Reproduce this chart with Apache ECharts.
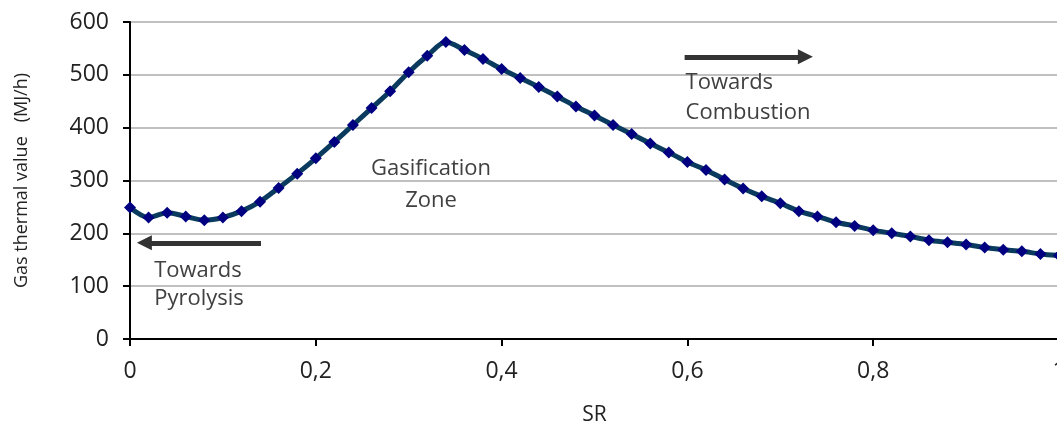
<!DOCTYPE html>
<html><head><meta charset="utf-8">
<script src="https://cdn.jsdelivr.net/npm/echarts@6/dist/echarts.min.js"></script>
<style>html,body{margin:0;padding:0;background:#fff}#c{width:1057px;height:429px}</style>
</head><body><div id="c"></div>
<script>
const srValues = [0,0.02,0.04,0.06,0.08,0.10,0.12,0.14,0.16,0.18,0.20,0.22,0.24,0.26,0.28,0.30,0.32,0.34,0.36,0.38,0.40,0.42,0.44,0.46,0.48,0.50,0.52,0.54,0.56,0.58,0.60,0.62,0.64,0.66,0.68,0.70,0.72,0.74,0.76,0.78,0.80,0.82,0.84,0.86,0.88,0.90,0.92,0.94,0.96,0.98,1.00];
const gasThermal = [249,230,239,232,225,230,242,260,286,313,342,373,405,437,469,505,536,562,547,530,511,494,477,459,440,423,405,388,370,353,335,320,302,285,270,257,242,232,221,214,206,200,194,187,183,179,173,169,166,161,158];
const yTicks = [0,100,200,300,400,500,600];
const arrows = [
  {from:[0.141,182], to:[0.0155,182]},
  {from:[0.597,534], to:[0.727,534]}
];
const notes = [
  {text:'Towards', at:[0.026,129], align:'left'},
  {text:'Pyrolysis', at:[0.026,76], align:'left'},
  {text:'Towards', at:[0.598,485], align:'left'},
  {text:'Combustion', at:[0.598,428], align:'left'},
  {text:'Gasification', at:[0.324,322], align:'center'},
  {text:'Zone', at:[0.324,262], align:'center'}
];

const FONT = '"Open Sans", "Noto Sans", sans-serif';
const chart = echarts.init(document.getElementById('c'));
chart.setOption({
  animation:false,
  grid:{left:130, top:22, width:929, height:317, outerBoundsMode:'none', containLabel:false,
    show:true, borderColor:'#000', borderWidth:2, backgroundColor:'transparent'},
  xAxis:{type:'value', min:0, max:1, interval:0.2,
    name:'SR', nameLocation:'middle', nameGap:66,
    nameTextStyle:{fontFamily:FONT, fontSize:21, color:'#222'},
    axisLine:{show:true, lineStyle:{color:'#000', width:2}},
    axisTick:{show:true, length:7, lineStyle:{color:'#000', width:2}},
    axisLabel:{fontFamily:FONT, fontSize:23, color:'#222', margin:21, hideOverlap:false,
      formatter:v=>String(Math.round(v*10)/10).replace('.',',')},
    splitLine:{show:false}},
  yAxis:{type:'value', min:0, max:600, interval:100,
    name:'Gas thermal value   (MJ/h)', nameLocation:'middle', nameGap:99, nameRotate:90,
    nameTextStyle:{fontFamily:FONT, fontSize:18, color:'#222'},
    axisLine:{show:true, lineStyle:{color:'#000', width:2}},
    axisTick:{show:true, length:7, lineStyle:{color:'#000', width:2}},
    axisLabel:{fontFamily:FONT, fontSize:23, color:'#222', margin:21,
      formatter:v=>yTicks.includes(v)?String(v):''},
    splitLine:{show:true, lineStyle:{color:'#c0c0c0', width:2}}},
  series:[{
    type:'line',
    data:srValues.map((x,i)=>[x,gasThermal[i]]),
    smooth:0.3,
    symbol:'diamond', symbolSize:12,
    itemStyle:{color:'#000080'},
    lineStyle:{color:'#0a3a5e', width:5},
    markLine:{silent:true, symbol:['none','triangle'], symbolSize:[15,15],
      lineStyle:{color:'#333', width:5, type:'solid'}, label:{show:false},
      data:arrows.map(a=>[{coord:a.from},{coord:a.to}])}
  }]
});
chart.setOption({
  graphic: notes.map(n=>{
    const p = chart.convertToPixel({gridIndex:0}, n.at);
    return {type:'text', x:p[0], y:p[1], silent:true,
      style:{text:n.text, fontFamily:FONT, fontSize:22, fill:'#404040',
        align:n.align, verticalAlign:'middle'}};
  })
});
</script></body></html>
